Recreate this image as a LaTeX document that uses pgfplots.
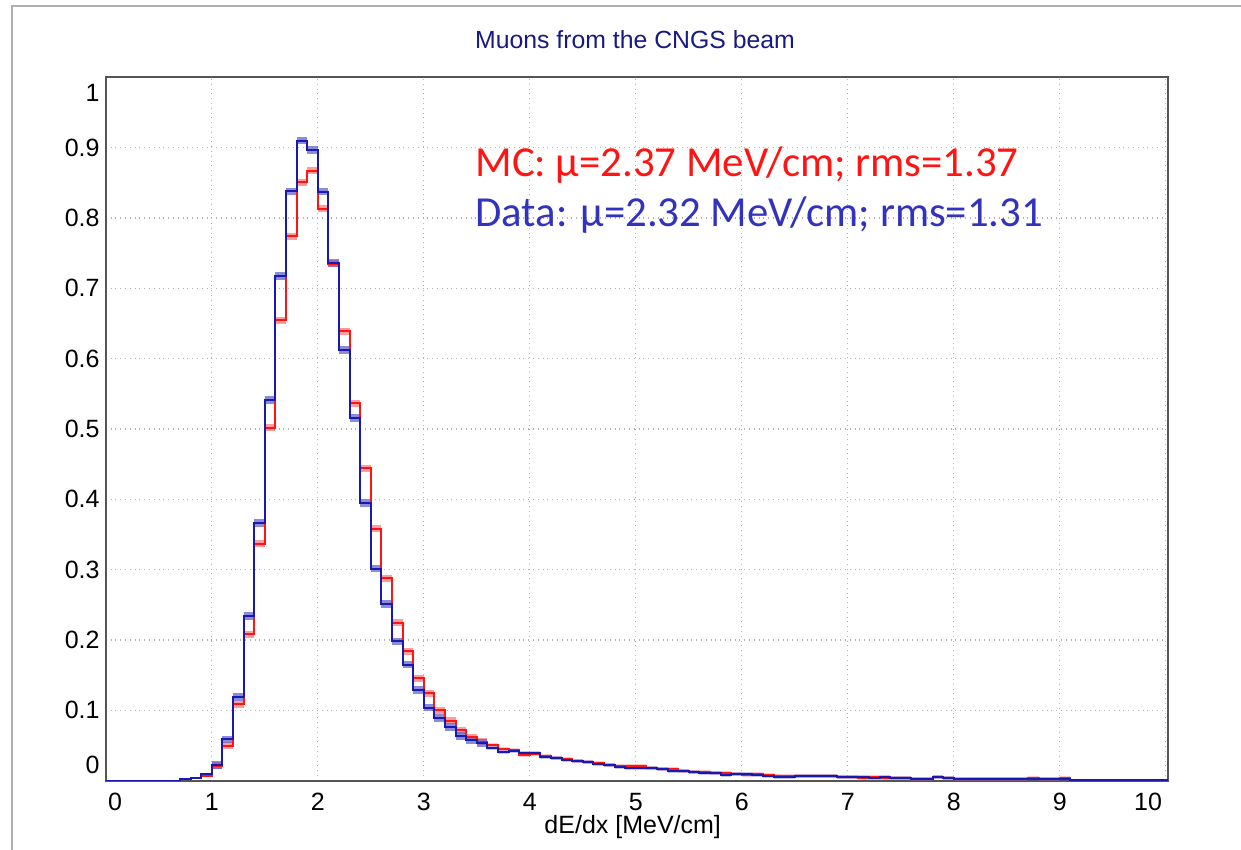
\documentclass[border=0pt]{standalone}
\usepackage{pgfplots}
\usepackage{pgfplotstable}
\pgfplotsset{compat=1.18}
\usepackage{fontspec}
\setmainfont{Liberation Sans}
\newfontfamily\calibri{Carlito}
\definecolor{titleblue}{RGB}{25,25,130}
\definecolor{datablue}{RGB}{25,25,175}
\definecolor{bandblue}{RGB}{90,90,200}
\definecolor{textblue}{RGB}{50,50,190}
\definecolor{mcred}{RGB}{255,20,20}
\definecolor{bandred}{RGB}{255,90,90}
\definecolor{framegray}{RGB}{175,175,175}
\definecolor{axisgray}{RGB}{85,85,85}

\pgfplotstableread{
x blue red
0.0 0.0 0.0
0.7 0.002 0.002
0.8 0.004 0.004
0.9 0.0095 0.0067
1.0 0.022 0.021
1.1 0.0588 0.0497
1.2 0.119 0.109
1.3 0.234 0.208
1.4 0.3665 0.337
1.5 0.541 0.502
1.6 0.718 0.655
1.7 0.838 0.774
1.8 0.910 0.851
1.9 0.897 0.8675
2.0 0.8376 0.813
2.1 0.736 0.735
2.2 0.612 0.639
2.3 0.516 0.537
2.4 0.395 0.4446
2.5 0.3017 0.3585
2.6 0.251 0.288
2.7 0.198 0.2245
2.8 0.165 0.184
2.9 0.129 0.146
3.0 0.104 0.124
3.1 0.089 0.100
3.2 0.076 0.085
3.3 0.0635 0.072
3.4 0.0578 0.062
3.5 0.054 0.0554
3.6 0.0469 0.0507
3.7 0.0403 0.0446
3.8 0.0422 0.0436
3.9 0.0389 0.037
4.0 0.0389 0.038
4.1 0.0341 0.035
4.2 0.0318 0.0318
4.3 0.0294 0.031
4.4 0.028 0.028
4.5 0.026 0.026
4.6 0.0233 0.025
4.7 0.0223 0.0223
4.8 0.020 0.021
4.9 0.0185 0.0208
5.0 0.0175 0.021
5.1 0.0175 0.0185
5.2 0.0161 0.0161
5.3 0.0142 0.017
5.4 0.0142 0.0142
5.5 0.0128 0.0128
5.6 0.0114 0.0118
5.7 0.0114 0.0104
5.8 0.0076 0.0104
5.9 0.0095 0.0095
6.0 0.0095 0.0081
6.1 0.0081 0.010
6.2 0.0067 0.0081
6.3 0.0057 0.0071
6.4 0.0057 0.0067
6.5 0.0067 0.0062
6.6 0.0067 0.0062
6.7 0.0062 0.0067
6.8 0.0067 0.0067
6.9 0.0048 0.0048
7.0 0.0048 0.0048
7.1 0.0048 0.0045
7.2 0.0038 0.0048
7.3 0.0048 0.0043
7.4 0.0043 0.0038
7.5 0.0043 0.0038
7.6 0.0024 0.0028
7.7 0.0029 0.0024
7.8 0.0057 0.0048
7.9 0.0033 0.0033
8.0 0.0024 0.0024
8.1 0.0019 0.0028
8.2 0.0024 0.0024
8.3 0.0024 0.0028
8.4 0.0028 0.0028
8.5 0.0028 0.0028
8.6 0.0024 0.0024
8.7 0.0028 0.0033
8.8 0.0019 0.0019
8.9 0.0019 0.0019
9.0 0.0019 0.0033
9.1 0.001 0.001
10.02 0.001 0.001
}\hist

\begin{document}
\begin{tikzpicture}
\path[use as bounding box] (0,0) rectangle (620.5pt,425pt);
\draw[framegray, line width=1pt] (5.75pt,0) -- (5.75pt,421.75pt) -- (620.5pt,421.75pt);
\begin{axis}[
  scale only axis, width=531pt, height=351.65pt,
  at={(52.9pt,34.65pt)}, anchor=south west,
  xmin=0, xmax=10.02, ymin=0, ymax=1,
  xtick={0,1,2,3,4,5,6,7,8,9,10},
  xticklabels={,1,2,3,4,5,6,7,8,9,},
  ytick={0,0.1,0.2,0.3,0.4,0.5,0.6,0.7,0.8,0.9,1},
  yticklabels={,0.1,0.2,0.3,0.4,0.5,0.6,0.7,0.8,0.9,},
  major tick length=0pt,
  grid=major,
  major grid style={dotted, black!30, line width=0.6pt},
  axis line style={axisgray, line width=1.1pt},
  tick label style={font=\fontsize{12.5}{14}\selectfont, inner sep=0pt},
  xticklabel style={anchor=center, yshift=-10.5pt},
  yticklabel style={anchor=east, xshift=-2.9pt},
  /pgf/number format/assume math mode=true,
]
\addplot[const plot mark left, jump mark left, bandred, opacity=0.6, line width=3.5pt, restrict x to domain=0.95:3.65] table[x=x, y=red] {\hist};
\addplot[const plot mark left, jump mark left, bandblue, opacity=0.7, line width=3.8pt, restrict x to domain=0.95:3.65] table[x=x, y=blue] {\hist};
\addplot[const plot mark left, jump mark left, bandred, opacity=0.35, line width=2pt, restrict x to domain=3.55:9.2] table[x=x, y=red] {\hist};
\addplot[const plot mark left, jump mark left, bandblue, opacity=0.35, line width=2pt, restrict x to domain=3.55:9.2] table[x=x, y=blue] {\hist};
\addplot[const plot mark left, mcred, line width=1pt] table[x=x, y=red] {\hist};
\addplot[const plot mark left, datablue, line width=1pt] table[x=x, y=blue] {\hist};
\end{axis}
% end tick labels, set inward as in the reference
\node[font=\fontsize{12.5}{14}\selectfont, inner sep=0pt, anchor=center] at (57.5pt,24.15pt) {0};
\node[font=\fontsize{12.5}{14}\selectfont, inner sep=0pt, anchor=center] at (574pt,24.15pt) {10};
\node[font=\fontsize{12.5}{14}\selectfont, inner sep=0pt, anchor=east] at (50pt,378.5pt) {1};
\node[font=\fontsize{12.5}{14}\selectfont, inner sep=0pt, anchor=east] at (50pt,42.5pt) {0};
% titles
\node[font=\fontsize{12.4}{15}\selectfont, text=titleblue, inner sep=0pt] at (317.5pt,405pt) {Muons from the CNGS beam};
\node[font=\fontsize{12.5}{14}\selectfont, inner sep=0pt] at (316.35pt,11.65pt) {dE/dx [MeV/cm]};
% annotations
\node[font=\calibri\fontsize{21.4}{25}\selectfont, text=mcred, inner sep=0pt, anchor=base west] at (237.5pt,336.65pt) {MC: µ=2.37 MeV/cm; rms=1.37};
\node[font=\calibri\fontsize{21.4}{25}\selectfont, text=textblue, inner sep=0pt, anchor=base west] at (237.5pt,311.65pt) {Data: µ=2.32 MeV/cm; rms=1.31};
\end{tikzpicture}
\end{document}
